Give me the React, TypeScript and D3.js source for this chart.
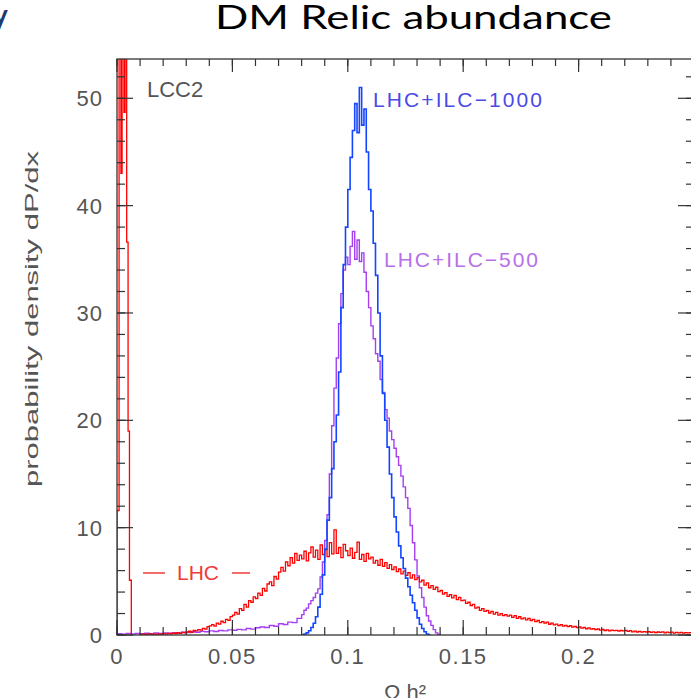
import React from "react";
import * as d3 from "d3";

// ---- data ----
const xTickValues = [0, 0.05, 0.1, 0.15, 0.2];
const xTickLabels = ["0", "0.05", "0.1", "0.15", "0.2"];
const yTickValues = [0, 10, 20, 30, 40, 50];
const yTickLabels = ["0", "10", "20", "30", "40", "50"];

// red (LHC) spike near zero: explicit bin edges
const redSpikeEdges = [0, 0.0009, 0.0017, 0.0022, 0.003, 0.0035, 0.0042, 0.0048, 0.0054, 0.0062];
const redSpikeValues = [11.6, 70, 43, 70, 48.7, 70, 36.6, 19, 5.1];

// red (LHC) broad distribution, bins of 0.001 starting at 0.010
const redStart = 0.01;
const redWidth = 0.001;
const redValues = [
  0.05, 0.08, 0.04, 0.07, 0.1, 0.06, 0.09, 0.05, 0.11, 0.08,
  0.12, 0.09, 0.15, 0.11, 0.18, 0.14, 0.21, 0.16, 0.25, 0.19,
  0.28, 0.35, 0.24, 0.42, 0.38, 0.51, 0.45, 0.62, 0.55, 0.78,
  0.85, 0.96, 0.82, 1.1, 1.02, 1.28, 1.15, 1.45, 1.36, 1.72,
  1.85, 2.1, 1.95, 2.45, 2.3, 2.85, 2.6, 3.2, 3.05, 3.55,
  3.4, 3.9, 3.7, 4.35, 4.1, 4.75, 4.95, 4.6, 5.45, 5.2,
  5.85, 6.3, 5.95, 6.8, 6.45, 7.2, 6.7, 7.6, 6.95, 7.45,
  7.1, 7.8, 6.9, 7.65, 8.2, 7.25, 7.9, 7.05, 8.4, 7.5,
  7.95, 7.3, 8.6, 7.55, 9.8, 7.6, 8.15, 7.2, 8.45, 7.85,
  7.4, 8.1, 7.15, 7.7, 8.65, 7.05, 7.5, 6.85, 7.6, 7.1,
  7.25, 6.7, 6.95, 6.5, 7.05, 6.4, 6.75, 6.2, 6.55, 6.1,
  6.35, 5.9, 6.15, 5.7, 5.95, 5.55, 5.8, 5.3, 5.6, 5.15,
  5.35, 4.95, 5.1, 4.65, 4.85, 4.4, 4.6, 4.25, 4.45, 4.05,
  4.15, 3.8, 3.95, 3.6, 3.75, 3.45, 3.7, 3.3, 3.5, 3.2,
  3.25, 2.95, 3.05, 2.75, 2.85, 2.5, 2.6, 2.3, 2.45, 2.2,
  2.3, 2.05, 2.2, 1.95, 2.1, 1.85, 2.0, 1.8, 1.9, 1.75,
  1.85, 1.65, 1.8, 1.55, 1.7, 1.5, 1.6, 1.4, 1.55, 1.35,
  1.45, 1.25, 1.35, 1.15, 1.25, 1.1, 1.2, 1.0, 1.1, 0.95,
  1.02, 0.88, 0.96, 0.82, 0.9, 0.78, 0.86, 0.74, 0.8, 0.7,
  0.76, 0.64, 0.7, 0.58, 0.66, 0.54, 0.6, 0.5, 0.56, 0.46,
  0.52, 0.42, 0.48, 0.38, 0.46, 0.4, 0.44, 0.36, 0.42, 0.38,
  0.44, 0.34, 0.4, 0.3, 0.36, 0.28, 0.34, 0.26, 0.32, 0.28,
  0.32, 0.24, 0.3, 0.22, 0.28, 0.24, 0.3, 0.2, 0.26, 0.22,
  0.26, 0.18, 0.24, 0.2, 0.25, 0.17, 0.22, 0.19, 0.23, 0.18,
];

// purple (LHC+ILC-500): tail bins of 0.002 from 0, core bins of 0.001 from 0.08
const purpleTailStart = 0;
const purpleTailWidth = 0.002;
const purpleTailValues = [
  0.12, 0.08, 0.15, 0.1, 0.14, 0.11, 0.16, 0.12, 0.18, 0.14,
  0.2, 0.16, 0.22, 0.19, 0.26, 0.22, 0.3, 0.26, 0.34, 0.3,
  0.38, 0.33, 0.42, 0.38, 0.48, 0.44, 0.52, 0.48, 0.6, 0.55,
  0.68, 0.75, 0.7, 0.88, 0.82, 1.05, 0.98, 1.2, 1.15, 1.55,
];
const purpleCoreStart = 0.08;
const purpleCoreWidth = 0.001;
const purpleCoreValues = [
  1.9, 2.3, 2.5, 2.9, 3.2, 3.5, 3.9, 4.3, 5.4, 6.8,
  8.8, 11.2, 15.0, 19.5, 23.0, 25.8, 29.0, 31.8, 34.0, 35.2,
  34.5, 36.2, 37.6, 35.0, 36.8, 34.8, 35.6, 33.8, 32.0, 30.5,
  28.8, 27.6, 26.2, 25.5, 23.8, 22.6, 21.0, 20.2, 19.0, 18.2,
  17.4, 16.6, 15.8, 14.8, 13.8, 12.8, 11.8, 10.2, 8.6, 7.0,
  5.5, 4.4, 3.5, 2.6, 1.8, 1.3, 0.9, 0.5, 0.2, 0.05,
];

// blue (LHC+ILC-1000): bins of 0.001 from 0.080
const blueStart = 0.08;
const blueWidth = 0.001;
const blueValues = [
  0, 0.1, 0.2, 0.4, 0.7, 1.1, 1.7, 2.6, 3.8, 5.6,
  8.0, 10.7, 12.8, 15.5, 18.0, 20.5, 24.5, 30.5, 34.5, 38.0,
  41.5, 44.5, 47.0, 49.5, 46.8, 51.0, 47.5, 49.0, 45.0, 41.5,
  39.5, 36.5, 33.5, 30.0, 26.0, 22.5, 20.0, 17.5, 15.0, 12.8,
  11.0, 9.6, 8.3, 7.2, 6.2, 5.3, 4.5, 3.7, 3.0, 2.3,
  1.6, 1.0, 0.6, 0.3, 0.1, 0,
];

// ---- layout ----
const W = 691;
const H = 698;
const L = 117;
const R = 694;
const T = 59;
const B = 635;

const x = d3.scaleLinear().domain([0, 0.25]).range([L, R]);
const y = d3.scaleLinear().domain([0, 53.66]).range([B, T]);

type Bin = [number, number];

function uniformBins(start: number, width: number, values: number[]): { lefts: number[]; end: number; values: number[] } {
  return { lefts: values.map((_, i) => start + i * width), end: start + values.length * width, values };
}

function stepPoints(lefts: number[], end: number, values: number[]): Bin[] {
  const pts: Bin[] = [[lefts[0], 0]];
  lefts.forEach((l, i) => pts.push([l, values[i]]));
  pts.push([end, 0]);
  return pts;
}

const line = d3
  .line<Bin>()
  .x((d) => x(d[0]))
  .y((d) => y(d[1]))
  .curve(d3.curveStepAfter);

const redSpikePath = line(stepPoints(redSpikeEdges.slice(0, -1), redSpikeEdges[redSpikeEdges.length - 1], redSpikeValues)) || "";
const redB = uniformBins(redStart, redWidth, redValues);
const redPath = line(stepPoints(redB.lefts, redB.end, redB.values)) || "";
const pT = uniformBins(purpleTailStart, purpleTailWidth, purpleTailValues);
const pC = uniformBins(purpleCoreStart, purpleCoreWidth, purpleCoreValues);
const purplePath = line(stepPoints([...pT.lefts, ...pC.lefts], pC.end, [...pT.values, ...pC.values])) || "";
const bB = uniformBins(blueStart, blueWidth, blueValues);
const bluePath = line(stepPoints(bB.lefts, bB.end, bB.values)) || "";

const xMinor = d3.range(0, 0.2501, 0.01);
const yMinor = d3.range(0, 53, 2);

const axisColor = "#333";
const labelColor = "#555";
const tickFont = "'Liberation Sans', Arial, sans-serif";

export default function App() {
  return (
    <svg
      width={W}
      height={H}
      style={{ position: "absolute", left: 0, top: 0, background: "#fff" }}
      xmlns="http://www.w3.org/2000/svg"
    >
      <defs>
        <clipPath id="plot">
          <rect x={L} y={T} width={R - L} height={B - T} />
        </clipPath>
      </defs>
      <rect x={0} y={0} width={W} height={H} fill="#fff" />

      {/* partial glyph from slide */}
      <text x={-7} y={25} fontFamily="Lato, 'Open Sans', sans-serif" fontWeight="bold" fontSize={28} fill="#1f3a6e">
        y
      </text>

      {/* title */}
      <text x={215} y={29} fontFamily="Lato, 'Open Sans', sans-serif" fontSize={32} fill="#000" textLength={397} lengthAdjust="spacingAndGlyphs">
        DM Relic abundance
      </text>

      {/* curves */}
      <g clipPath="url(#plot)" fill="none">
        <path d={purplePath} stroke="#a53ff0" strokeWidth={1.4} />
        <path d={redPath} stroke="#ff0000" strokeWidth={1.3} />
        <path d={redSpikePath} stroke="#ff0000" strokeWidth={1.3} />
        <path d={bluePath} stroke="#1446ff" strokeWidth={1.6} />
      </g>

      {/* frame */}
      <rect x={L} y={T} width={R - L} height={B - T} fill="none" stroke={axisColor} strokeWidth={1.3} />

      {/* ticks */}
      <g stroke={axisColor} strokeWidth={1.2}>
        {xMinor.map((v, i) => (
          <g key={"xm" + i}>
            <line x1={x(v)} x2={x(v)} y1={B} y2={B - 8} />
            <line x1={x(v)} x2={x(v)} y1={T} y2={T + 7} />
          </g>
        ))}
        {xTickValues.map((v, i) => (
          <g key={"xM" + i}>
            <line x1={x(v)} x2={x(v)} y1={B} y2={B - 15} />
            <line x1={x(v)} x2={x(v)} y1={T} y2={T + 13} />
          </g>
        ))}
        {yMinor.map((v, i) => (
          <g key={"ym" + i}>
            <line x1={L} x2={L + 8} y1={y(v)} y2={y(v)} />
            <line x1={R} x2={R - 8} y1={y(v)} y2={y(v)} />
          </g>
        ))}
        {yTickValues.map((v, i) => (
          <g key={"yM" + i}>
            <line x1={L} x2={L + 16} y1={y(v)} y2={y(v)} />
            <line x1={R} x2={R - 16} y1={y(v)} y2={y(v)} />
          </g>
        ))}
      </g>

      {/* tick labels */}
      <g fontFamily={tickFont} fontSize={22} fill={labelColor}>
        {xTickValues.map((v, i) => (
          <text key={"xl" + i} x={x(v)} y={664} textAnchor="middle" letterSpacing={1.5}>
            {xTickLabels[i]}
          </text>
        ))}
        {yTickValues.map((v, i) => (
          <text key={"yl" + i} x={103} y={y(v) + 8} textAnchor="end" letterSpacing={1}>
            {yTickLabels[i]}
          </text>
        ))}
      </g>

      {/* axis titles */}
      <text
        transform={`translate(38,319) rotate(-90)`}
        textAnchor="middle"
        fontFamily={tickFont}
        fontSize={19}
        fill={labelColor}
        textLength={336}
        lengthAdjust="spacingAndGlyphs"
      >
        probability density dP/dx
      </text>
      <text x={405} y={700} textAnchor="middle" fontFamily={tickFont} fontSize={22} fill={labelColor}>
        Ω h²
      </text>

      {/* labels */}
      <text x={147} y={97} fontFamily={tickFont} fontSize={22} fill={labelColor}>
        LCC2
      </text>
      <text x={373} y={107} fontFamily={tickFont} fontSize={21} fill="#4a4ae6" textLength={169} lengthAdjust="spacing">
        LHC+ILC−1000
      </text>
      <text x={384} y={267} fontFamily={tickFont} fontSize={21} fill="#b870e8" textLength={154} lengthAdjust="spacing">
        LHC+ILC−500
      </text>
      <g stroke="#f03a3a" strokeWidth={1.5}>
        <line x1={143} x2={165} y1={573} y2={573} />
        <line x1={232} x2={250} y1={573} y2={573} />
      </g>
      <text x={177} y={580} fontFamily={tickFont} fontSize={21} fill="#f03a3a">
        LHC
      </text>
    </svg>
  );
}
